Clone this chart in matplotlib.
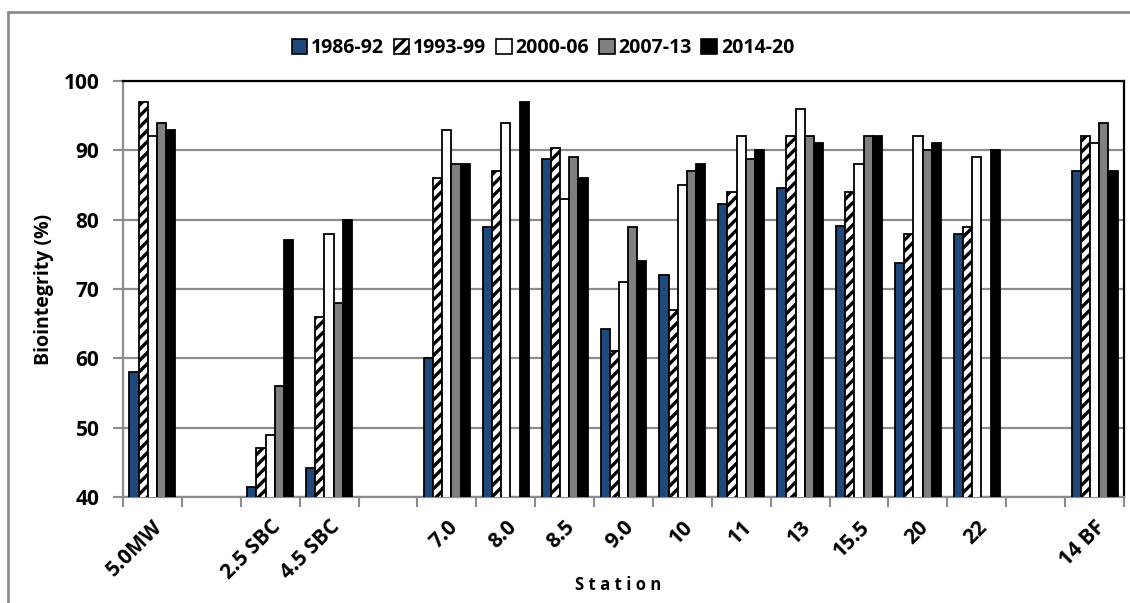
import numpy as np
import matplotlib
matplotlib.use("Agg")
import matplotlib.pyplot as plt
from matplotlib.patches import Rectangle, Patch

nan = np.nan
stations = ["5.0MW", "", "2.5 SBC", "4.5 SBC", "", "7.0", "8.0", "8.5", "9.0",
            "10", "11", "13", "15.5", "20", "22", "", "14 BF"]
periods = ["1986-92", "1993-99", "2000-06", "2007-13", "2014-20"]
v1986 = [58, nan, 41.5, 44.2, nan, 60, 79, 88.7, 64.3, 72, 82.2, 84.6, 79.1, 73.7, 78, nan, 87]
v1993 = [97, nan, 47, 66, nan, 86, 87, 90.3, 61, 67, 84, 92.1, 84, 78, 79, nan, 92]
v2000 = [92, nan, 49, 78, nan, 93, 94, 83, 71, 85, 92, 96, 88, 92, 89, nan, 91]
v2007 = [94, nan, 56, 68, nan, 88, nan, 89, 79, 87, 88.8, 92, 92, 90, nan, nan, 94]
v2014 = [93, nan, 77, 80, nan, 88, 97, 86, 74, 88, 90, 91, 92, 91, 90, nan, 87]
series = [v1986, v1993, v2000, v2007, v2014]

FONT = ['Open Sans', 'DejaVu Sans']
plt.rcParams['font.family'] = FONT
plt.rcParams['hatch.linewidth'] = 2.4

fig = plt.figure(figsize=(11.3, 6.03), dpi=100)
ax = fig.add_axes([123/1130, 1-497/603, (1124-123)/1130, (497-81)/603])

# outer chart-area border (cut off at right and bottom)
fig.patches.append(Rectangle((8/1130, -0.1), 1.2, 1.1 - 12/603, transform=fig.transFigure,
                             fill=False, edgecolor='#8c8c8c', linewidth=2, zorder=0))

styles = [dict(color='#1f497d', hatch=None),
          dict(color='white', hatch='///'),
          dict(color='white', hatch=None),
          dict(color='#808080', hatch=None),
          dict(color='black', hatch=None)]
bw = 0.156
x = np.arange(len(stations))
for i, (vals, st) in enumerate(zip(series, styles)):
    vals = np.array(vals, dtype=float)
    m = ~np.isnan(vals)
    ax.bar(x[m] + (i - 2) * bw, vals[m], width=bw, color=st['color'], hatch=st['hatch'],
           edgecolor='black', linewidth=1.3, zorder=3)

ax.set_ylim(40, 100)
ax.set_xlim(-0.5, len(stations) - 0.5)
ax.set_yticks(np.arange(40, 101, 10))
ax.yaxis.grid(True, color='#8c8c8c', linewidth=1.6, zorder=0)
ax.set_axisbelow(True)

ax.set_xticks(np.arange(-0.5, len(stations), 1.0), minor=False)
ax.set_xticklabels([])
ax.set_xticks(x, minor=True)
ax.set_xticklabels(stations, minor=True, rotation=45, ha='right', rotation_mode='anchor',
                   fontsize=15, fontweight='bold')
ax.tick_params(axis='x', which='minor', length=0, pad=14)
ax.tick_params(axis='x', which='major', length=7, color='#8c8c8c', width=1.5)
ax.tick_params(axis='y', length=7, color='#8c8c8c', width=1.5, labelsize=15, pad=10)
for lab in ax.get_yticklabels():
    lab.set_fontweight('bold')

for s in ['left', 'bottom']:
    ax.spines[s].set_color('#8c8c8c')
    ax.spines[s].set_linewidth(1.6)
for s in ['top', 'right']:
    ax.spines[s].set_color('black')
    ax.spines[s].set_linewidth(1.6)

ax.set_ylabel('Biointegrity (%)', fontsize=14, fontweight='bold')
ax.yaxis.set_label_coords(-(123 - 54)/1001, 0.5)
fig.text(618/1130, 1-585/603, 'S t a t i o n', ha='center', va='center',
         fontsize=12, fontweight='bold')

handles = [Patch(facecolor=st['color'], hatch=st['hatch'], edgecolor='black', linewidth=1.2)
           for st in styles]
fig.legend(handles, periods, loc='center', bbox_to_anchor=(543/1130, 1-48/603), ncol=5,
           frameon=False, handlelength=0.8, handleheight=0.8, handletextpad=0.2,
           columnspacing=0.5, prop=dict(size=14, weight='bold'))

fig.savefig('out.png', dpi=100)
